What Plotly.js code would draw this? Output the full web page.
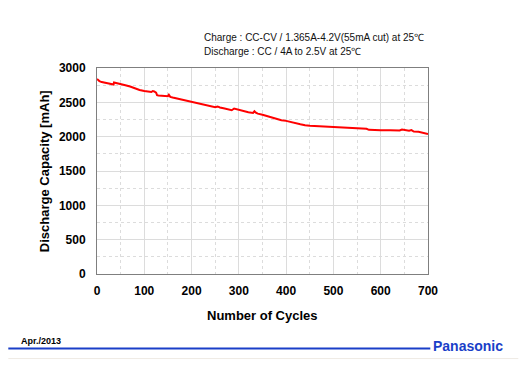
<!DOCTYPE html>
<html><head><meta charset="utf-8">
<script src="https://cdn.plot.ly/plotly-3.0.1.min.js"></script>
<style>body{margin:0;background:#fff}#c{width:523px;height:371px}</style>
</head><body><div id="c"></div>
<script>
const cycles = [0,5,10,20,30,35,36,40,50,60,70,80,90,100,110,115,118,121,125,127,130,140,150,152,155,160,170,180,190,200,210,220,230,240,250,255,260,270,280,285,290,295,300,310,320,330,333,336,340,350,360,370,380,390,400,410,420,430,440,450,500,550,570,575,580,600,620,640,645,650,660,665,670,680,690,700];
const capacity = [2840,2810,2795,2780,2765,2760,2790,2785,2770,2750,2730,2700,2680,2665,2655,2650,2665,2660,2640,2605,2600,2598,2590,2610,2580,2570,2555,2540,2520,2505,2490,2475,2460,2445,2430,2440,2425,2410,2395,2385,2410,2400,2390,2375,2355,2345,2370,2350,2335,2320,2300,2275,2255,2240,2230,2210,2195,2180,2165,2158,2140,2125,2115,2100,2098,2095,2093,2090,2105,2095,2085,2095,2075,2070,2055,2040];
const xTickVals = [0,100,200,300,400,500,600,700];
const xTickText = ["0","100","200","300","400","500","600","700"];
const yTickVals = [0,500,1000,1500,2000,2500,3000];
const yTickText = ["0","500","1000","1500","2000","2500","3000"];
const titleLines = ["Charge : CC-CV / 1.365A-4.2V(55mA cut) at 25\u2103", "Discharge : CC / 4A to 2.5V at 25\u2103"];
const xTitle = "Number of Cycles";
const yTitle = "Discharge Capacity [mAh]";
const dateText = "Apr./2013";
const brandText = "Panasonic";

const L = 96.7, R = 427.7, T = 68, B = 274.3;
const W = R - L, H = B - T;
const px = x => (x - L) / W;
const py = y => (B - y) / H;

const font = "Arial, 'Liberation Sans', sans-serif";
const bold = s => "<b>" + s + "</b>";
const axisCommon = {
  showline: true, mirror: true, linecolor: '#7f7f7f', linewidth: 1,
  showgrid: true, gridcolor: '#dcdcdc', gridwidth: 1,
  zeroline: false, ticks: '', tickmode: 'array',
  tickfont: {family: font, size: 12, color: '#000', weight: 700}
};
const layout = {
  width: 523, height: 371,
  margin: {l: L, r: 523 - R, t: T, b: 371 - B, pad: 0},
  paper_bgcolor: '#fff', plot_bgcolor: '#fff',
  showlegend: false,
  xaxis: Object.assign({}, axisCommon, {range: [0, 700],
    tickvals: xTickVals, ticktext: xTickText.map(bold),
    minor: {tickmode: 'linear', dtick: 50, tick0: 0, showgrid: true, gridcolor: '#dcdcdc', griddash: 'dot', gridwidth: 1},
    ticklabelstandoff: 6}),
  yaxis: Object.assign({}, axisCommon, {range: [0, 3000],
    tickvals: yTickVals, ticktext: yTickText.map(bold),
    minor: {tickmode: 'linear', dtick: 250, tick0: 0, showgrid: true, gridcolor: '#dcdcdc', griddash: 'dot', gridwidth: 1},
    ticklabelstandoff: 8}),
  annotations: [
    {xref: 'paper', yref: 'paper', x: px(202), y: py(37), xanchor: 'left', yanchor: 'middle', showarrow: false,
     text: titleLines[0], font: {family: font, size: 10, color: '#111'}},
    {xref: 'paper', yref: 'paper', x: px(202), y: py(51), xanchor: 'left', yanchor: 'middle', showarrow: false,
     text: titleLines[1], font: {family: font, size: 10, color: '#111'}},
    {xref: 'paper', yref: 'paper', x: px(262), y: py(316), xanchor: 'center', yanchor: 'middle', showarrow: false,
     text: bold(xTitle), font: {family: font, size: 13, color: '#000'}},
    {xref: 'paper', yref: 'paper', x: px(45), y: py(171), xanchor: 'center', yanchor: 'middle', showarrow: false,
     textangle: -90, text: bold(yTitle), font: {family: font, size: 13, color: '#000'}},
    {xref: 'paper', yref: 'paper', x: px(19), y: py(341), xanchor: 'left', yanchor: 'middle', showarrow: false,
     text: bold(dateText), font: {family: font, size: 9, color: '#000'}},
    {xref: 'paper', yref: 'paper', x: px(431), y: py(346), xanchor: 'left', yanchor: 'middle', showarrow: false,
     text: bold(brandText), font: {family: font, size: 14, color: '#1a3fc8'}}
  ],
  shapes: [
    {type: 'line', xref: 'paper', yref: 'paper', x0: px(8), x1: px(430), y0: py(349), y1: py(349),
     line: {color: '#1a3fc8', width: 2}},
    {type: 'line', xref: 'paper', yref: 'paper', x0: px(8), x1: px(518), y0: py(359), y1: py(359),
     line: {color: '#eeeae4', width: 1}}
  ]
};
const data = [{x: cycles, y: capacity, type: 'scatter', mode: 'lines',
  line: {color: '#ff0000', width: 2}, hoverinfo: 'skip'}];
Plotly.newPlot('c', data, layout, {staticPlot: true, displayModeBar: false});
</script></body></html>
